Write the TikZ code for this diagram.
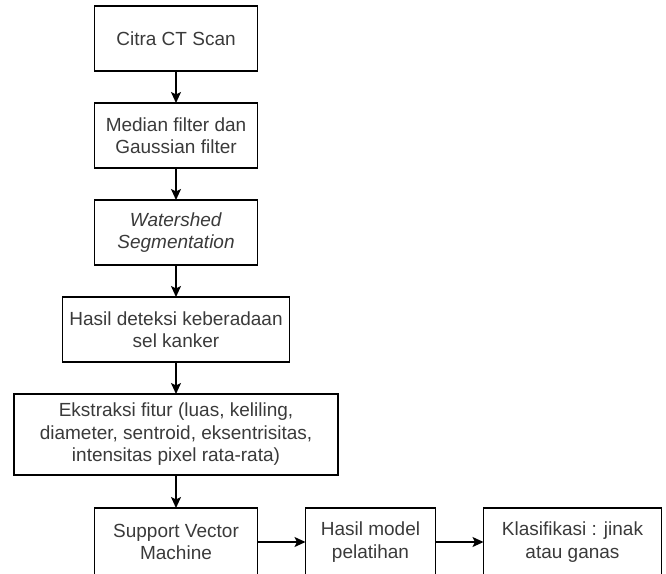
\documentclass[tikz,border=0pt]{standalone}
\usepackage{fontspec}
\setmainfont{Liberation Sans}
\usetikzlibrary{arrows.meta, positioning}
\definecolor{textgray}{HTML}{3A3A3A}

\begin{document}
\begin{tikzpicture}[
        x=1pt, y=1pt,
        node distance=32pt,
        every node/.style={rectangle, draw, line width=1.5pt, inner sep=0pt, outer sep=0pt,
            minimum width=163pt, minimum height=65pt, align=center,
            text=textgray, font=\fontsize{19}{22.5}\selectfont},
        lastrow/.style={minimum height=68pt},
        arrow/.style={-{Stealth[length=11pt, width=10pt, inset=2.5pt]}, line width=1.5pt}
    ]

    \useasboundingbox (0,0) rectangle (666,-573);

    \node (citra) at (176,-38.5) {Citra CT Scan};
    \node (filter) [below=of citra] {Median filter dan\\Gaussian filter};
    \node (water) [below=of filter] {\textit{Watershed}\\\textit{Segmentation}};
    \node (deteksi) [below=of water, minimum width=227pt] {Hasil deteksi keberadaan\\sel kanker};
    \node (fitur) [below=of deteksi, minimum width=324pt, minimum height=81pt]
        {Ekstraksi fitur (luas, keliling,\\diameter, sentroid, eksentrisitas,\\intensitas pixel rata-rata)};
    \node (svm) [lastrow, below=33pt of fitur] {Support Vector\\Machine};
    \node (model) [lastrow, right=48pt of svm, minimum width=130pt] {Hasil model\\pelatihan};
    \node (klas) [lastrow, right=48pt of model, minimum width=178pt] {Klasifikasi : jinak\\atau ganas};

    \draw[arrow] (citra) -- (filter);
    \draw[arrow] (filter) -- (water);
    \draw[arrow] (water) -- (deteksi);
    \draw[arrow] (deteksi) -- (fitur);
    \draw[arrow] (fitur) -- (svm);
    \draw[arrow] (svm) -- (model);
    \draw[arrow] (model) -- (klas);
\end{tikzpicture}
\end{document}
